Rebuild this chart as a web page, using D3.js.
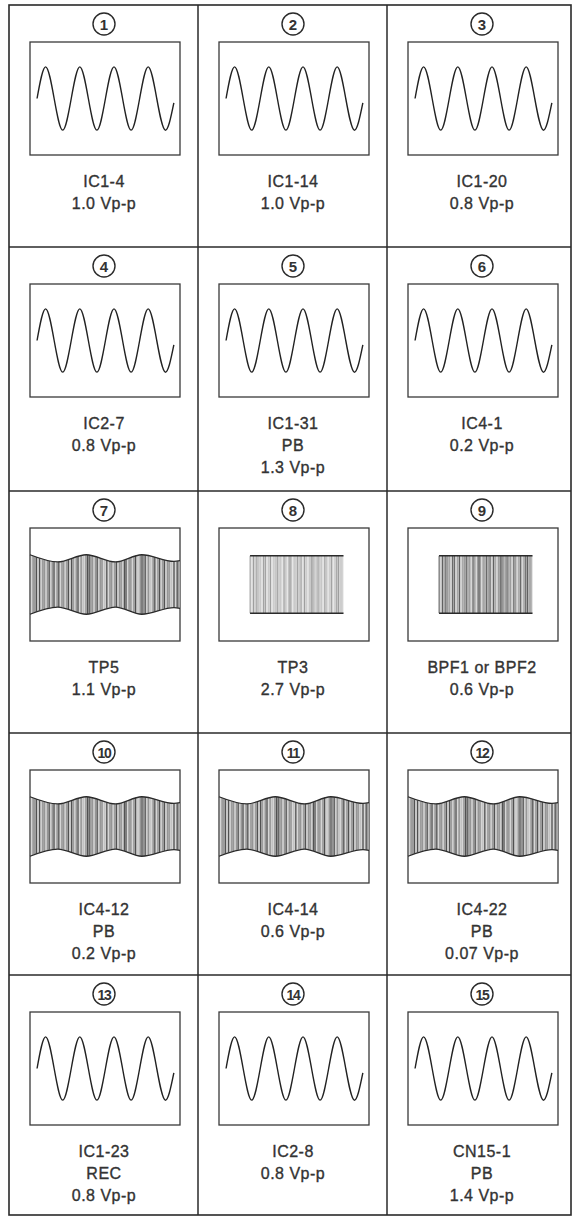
<!DOCTYPE html>
<html><head><meta charset="utf-8">
<script src="https://cdn.jsdelivr.net/npm/d3@7/dist/d3.min.js"></script>
<style>html,body{margin:0;padding:0;background:#fff}svg{display:block}</style>
</head><body><div id="chart"></div>
<script>
// ---- data ----
const cellNumbers = [1,2,3,4,5,6,7,8,9,10,11,12,13,14,15];
const testPoints = ["IC1-4","IC1-14","IC1-20","IC2-7","IC1-31","IC4-1","TP5","TP3","BPF1 or BPF2","IC4-12","IC4-14","IC4-22","IC1-23","IC2-8","CN15-1"];
const modes = ["","","","","PB","","","","","PB","","PB","REC","","PB"];
const voltages = ["1.0","1.0","0.8","0.8","1.3","0.2","1.1","2.7","0.6","0.2","0.6","0.07","0.8","0.8","1.4"];
const waveTypes = ["sine","sine","sine","sine","sine","sine","am","burst","burst","am","am","am","sine","sine","sine"];
const burstShade = ["","","","","","","","light","dark","","","","","",""];
// sine key points (screen divisions: x 0..10, y -3.8..3.8)
const sineX = [0.47,1.04,1.61,2.18,2.75,3.32,3.89,4.46,5.03,5.60,6.17,6.74,7.31,7.88,8.45,9.02,9.59];
const sineY = [0,2.13,0,-2.13,0,2.13,0,-2.13,0,2.13,0,-2.13,0,2.13,0,-2.13,-0.3];
// AM envelope key points (half-height in divisions)
const envX = [0,1.85,3.75,5.7,7.45,9.6,10];
const envH = [2.0,1.52,2.0,1.52,2.0,1.55,1.6];
// burst block
const burstX = [2.07,8.3];
const burstH = 1.93;

// ---- layout ----
const W = 573, H = 1218;
const colEdges = [9,198,387,571];
const rowEdges = [5,247,491,733,975,1215];
const ink = "#2a2a2a";

const svg = d3.select("#chart").append("svg").attr("width",W).attr("height",H);
const defs = svg.append("defs");

// grid
svg.append("rect").attr("x",colEdges[0]).attr("y",rowEdges[0])
  .attr("width",colEdges[3]-colEdges[0]).attr("height",rowEdges[5]-rowEdges[0])
  .attr("fill","none").attr("stroke",ink).attr("stroke-width",1.6);
colEdges.slice(1,3).forEach(x=>svg.append("line").attr("x1",x).attr("x2",x)
  .attr("y1",rowEdges[0]).attr("y2",rowEdges[5]).attr("stroke",ink).attr("stroke-width",1.5));
rowEdges.slice(1,5).forEach(y=>svg.append("line").attr("y1",y).attr("y2",y)
  .attr("x1",colEdges[0]).attr("x2",colEdges[3]).attr("stroke",ink).attr("stroke-width",1.5));

cellNumbers.forEach((num,i)=>{
  const col = i%3, row = Math.floor(i/3);
  const x0 = colEdges[col], y0 = rowEdges[row];
  const bx = x0+21, by = y0+37, bw = 150, bh = 113;
  const cx = bx + bw/2;
  const xs = d3.scaleLinear().domain([0,10]).range([bx,bx+bw]);
  const ys = d3.scaleLinear().domain([-3.8,3.8]).range([by+bh,by]);
  const g = svg.append("g");

  // circled number
  g.append("circle").attr("cx",cx-1).attr("cy",y0+19).attr("r",11)
    .attr("fill","none").attr("stroke",ink).attr("stroke-width",1.4);
  g.append("text").attr("x",cx-1).attr("y",y0+24.5).attr("text-anchor","middle")
    .attr("font-family","Liberation Sans, Arial, sans-serif").attr("font-weight","bold")
    .attr("font-size", num>9?14:15).attr("letter-spacing", num>9?-1.2:0)
    .attr("fill","#333").text(num);

  // scope screen
  g.append("rect").attr("x",bx).attr("y",by).attr("width",bw).attr("height",bh)
    .attr("fill","none").attr("stroke","#3a3a3a").attr("stroke-width",1.3);

  const type = waveTypes[i];
  if(type==="sine"){
    const pts = sineX.map((x,k)=>[x,sineY[k]]);
    g.append("path").attr("d",d3.line().x(d=>xs(d[0])).y(d=>ys(d[1])).curve(d3.curveNatural)(pts))
      .attr("fill","none").attr("stroke","#222").attr("stroke-width",1.4);
  } else if(type==="am"){
    const pts = envX.map((x,k)=>[x,envH[k]]);
    const area = d3.area().x(d=>xs(d[0])).y0(d=>ys(-d[1])).y1(d=>ys(d[1])).curve(d3.curveMonotoneX);
    const id = "clip"+i;
    defs.append("clipPath").attr("id",id).append("path").attr("d",area(pts));
    const cg = g.append("g").attr("clip-path",`url(#${id})`);
    cg.append("rect").attr("x",bx).attr("y",by).attr("width",bw).attr("height",bh).attr("fill","#b4b4b4");
    d3.range(0,bw,1.6).forEach((dx,k)=>{
      const dark = (k%6===0)||(k%11===4);
      const white = (k%3===1)||(k%7===5);
      cg.append("line").attr("x1",bx+dx).attr("x2",bx+dx).attr("y1",by).attr("y2",by+bh)
        .attr("stroke", dark?"#3a3a3a":(white?"#f4f4f4":"#7a7a7a"))
        .attr("stroke-width", dark?0.9:0.6);
    });
    const top = d3.line().x(d=>xs(d[0])).y(d=>ys(d[1])).curve(d3.curveMonotoneX);
    const bot = d3.line().x(d=>xs(d[0])).y(d=>ys(-d[1])).curve(d3.curveMonotoneX);
    g.append("path").attr("d",top(pts)).attr("fill","none").attr("stroke","#2a2a2a").attr("stroke-width",1.3);
    g.append("path").attr("d",bot(pts)).attr("fill","none").attr("stroke","#2a2a2a").attr("stroke-width",1.3);
  } else if(type==="burst"){
    const light = burstShade[i]==="light";
    const x1 = xs(burstX[0]), x2 = xs(burstX[1]), yt = ys(burstH), yb = ys(-burstH);
    g.append("rect").attr("x",x1).attr("y",yt).attr("width",x2-x1).attr("height",yb-yt)
      .attr("fill", light?"#dadada":"#c4c4c4");
    d3.range(0,x2-x1+0.1,1.7).forEach((dx,k)=>{
      const dark = (k%4===0)||(k%7===2);
      const white = k%3===1;
      g.append("line").attr("x1",x1+dx).attr("x2",x1+dx).attr("y1",yt).attr("y2",yb)
        .attr("stroke", light?(dark?"#8a8a8a":(white?"#f0f0f0":"#b8b8b8")):(dark?"#404040":(white?"#eaeaea":"#808080")))
        .attr("stroke-width", dark?0.8:0.6);
    });
    g.append("line").attr("x1",x1).attr("x2",x2).attr("y1",yt).attr("y2",yt).attr("stroke","#2a2a2a").attr("stroke-width",1.4);
    g.append("line").attr("x1",x1).attr("x2",x2).attr("y1",yb).attr("y2",yb).attr("stroke","#2a2a2a").attr("stroke-width",1.4);
  }

  // labels
  const lines = [testPoints[i]];
  if(modes[i]) lines.push(modes[i]);
  lines.push(voltages[i]+" Vp-p");
  lines.forEach((t,k)=>{
    g.append("text").attr("x",cx-1).attr("y",y0+182+22*k).attr("text-anchor","middle")
      .attr("font-family","Liberation Sans, Arial, sans-serif").attr("font-size",16)
      .attr("letter-spacing",0.5).attr("fill","#333")
      .attr("stroke","#333").attr("stroke-width",0.35).text(t);
  });
});
</script></body></html>
